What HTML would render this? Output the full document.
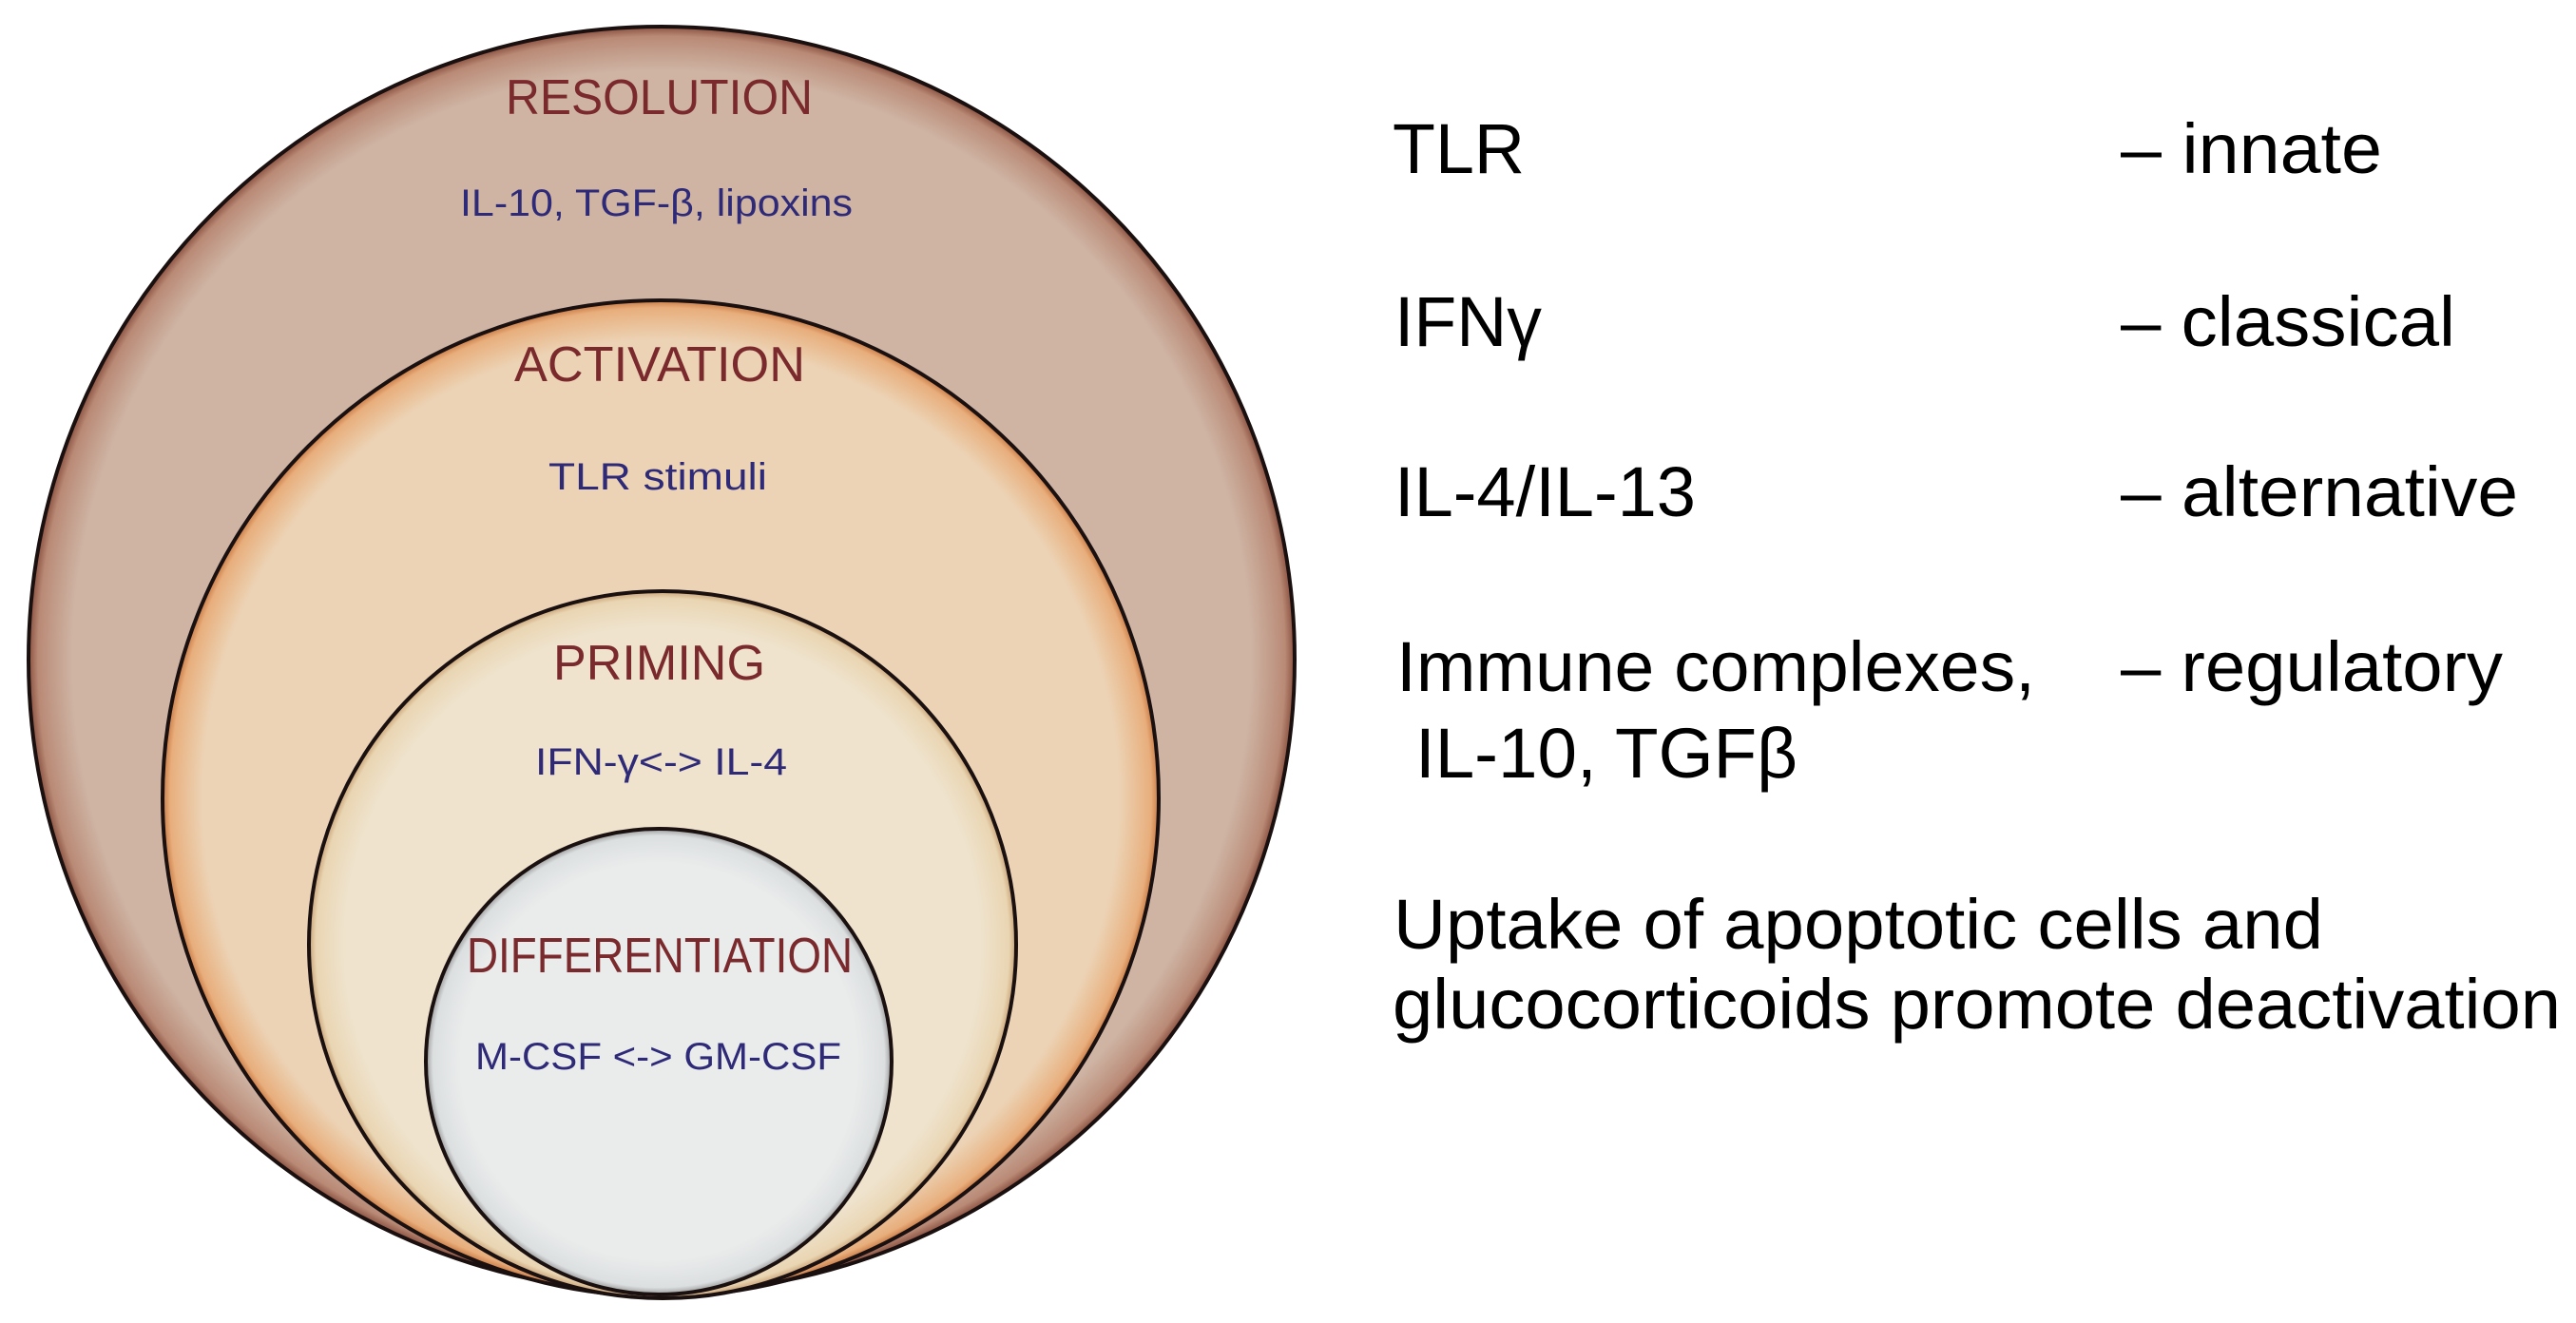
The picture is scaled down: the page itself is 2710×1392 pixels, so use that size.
<!DOCTYPE html>
<html><head><meta charset="utf-8"><style>html,body{margin:0;padding:0;background:#fff;}svg{display:block}</style></head>
<body>
<svg width="2710" height="1392" viewBox="0 0 2710 1392" xmlns="http://www.w3.org/2000/svg">
<defs>
<radialGradient id="g1" cx="50%" cy="50%" r="50%">
<stop offset="0.93" stop-color="#cfb4a4"/><stop offset="0.985" stop-color="#b98a76"/><stop offset="1" stop-color="#8a5040"/></radialGradient>
<radialGradient id="g2" cx="50%" cy="50%" r="50%">
<stop offset="0.92" stop-color="#ecd3b5"/><stop offset="0.985" stop-color="#e8ae7c"/><stop offset="1" stop-color="#c87a45"/></radialGradient>
<radialGradient id="g3" cx="50%" cy="50%" r="50%">
<stop offset="0.9" stop-color="#efe3cd"/><stop offset="0.98" stop-color="#e9d5b2"/><stop offset="1" stop-color="#c9a276"/></radialGradient>
<radialGradient id="g4" cx="50%" cy="50%" r="50%">
<stop offset="0.85" stop-color="#eaecec"/><stop offset="0.97" stop-color="#dcdfe0"/><stop offset="1" stop-color="#9a9a9a"/></radialGradient>
</defs>
<circle cx="696" cy="694" r="666" fill="url(#g1)" stroke="#1a1010" stroke-width="4"/>
<circle cx="695" cy="840" r="524" fill="url(#g2)" stroke="#1a1010" stroke-width="4"/>
<circle cx="697" cy="994" r="372" fill="url(#g3)" stroke="#1a1010" stroke-width="4"/>
<circle cx="693" cy="1117" r="245" fill="url(#g4)" stroke="#1a1010" stroke-width="4"/>
<g font-family="Liberation Sans, sans-serif" font-size="52" fill="#7a2a2c" text-anchor="start">
<text x="532" y="120" textLength="323" lengthAdjust="spacingAndGlyphs">RESOLUTION</text>
<text x="541" y="401" textLength="306" lengthAdjust="spacingAndGlyphs">ACTIVATION</text>
<text x="582" y="715" textLength="223" lengthAdjust="spacingAndGlyphs">PRIMING</text>
<text x="491" y="1023" textLength="406" lengthAdjust="spacingAndGlyphs">DIFFERENTIATION</text>
</g>
<g font-family="Liberation Sans, sans-serif" font-size="40" fill="#2e2a78">
<text x="484" y="227" textLength="413" lengthAdjust="spacingAndGlyphs">IL-10, TGF-β, lipoxins</text>
<text x="577" y="515" textLength="230" lengthAdjust="spacingAndGlyphs">TLR stimuli</text>
<text x="563" y="815" textLength="265" lengthAdjust="spacingAndGlyphs">IFN-γ&lt;-&gt; IL-4</text>
<text x="500" y="1125" textLength="385" lengthAdjust="spacingAndGlyphs">M-CSF &lt;-&gt; GM-CSF</text>
</g>
<g font-family="Liberation Sans, sans-serif" font-size="74" fill="#000">
<text x="1465" y="182" textLength="139" lengthAdjust="spacingAndGlyphs">TLR</text>
<text x="2231" y="182" textLength="275" lengthAdjust="spacingAndGlyphs">– innate</text>
<text x="1467" y="364" textLength="155" lengthAdjust="spacingAndGlyphs">IFNγ</text>
<text x="2231" y="364" textLength="352" lengthAdjust="spacingAndGlyphs">– classical</text>
<text x="1467" y="543" textLength="317" lengthAdjust="spacingAndGlyphs">IL-4/IL-13</text>
<text x="2231" y="543" textLength="418" lengthAdjust="spacingAndGlyphs">– alternative</text>
<text x="1469" y="727" textLength="672" lengthAdjust="spacingAndGlyphs">Immune complexes,</text>
<text x="2231" y="727" textLength="402" lengthAdjust="spacingAndGlyphs">– regulatory</text>
<text x="1489" y="818" textLength="402" lengthAdjust="spacingAndGlyphs">IL-10, TGFβ</text>
<text x="1466" y="998" textLength="978" lengthAdjust="spacingAndGlyphs">Uptake of apoptotic cells and</text>
<text x="1465" y="1082" textLength="1229" lengthAdjust="spacingAndGlyphs">glucocorticoids promote deactivation</text>
</g>
</svg>
</body></html>
